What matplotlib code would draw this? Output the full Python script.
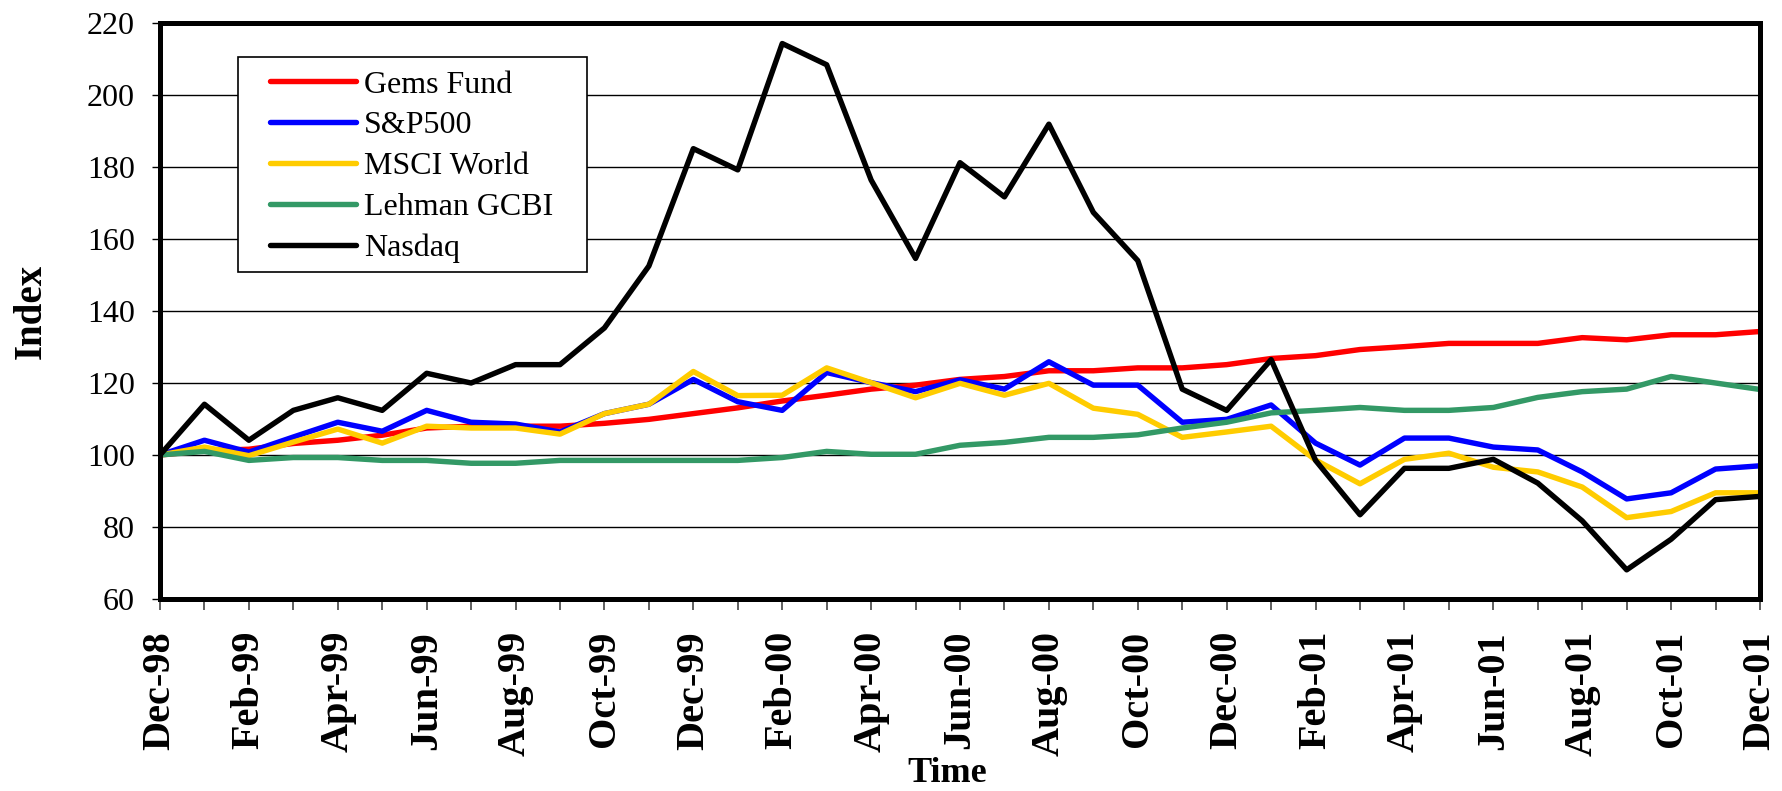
import matplotlib
matplotlib.use("Agg")
import matplotlib.pyplot as plt
from matplotlib.patches import Rectangle

plt.rcParams['font.family'] = ['Liberation Serif', 'DejaVu Serif']

months = ['Dec-98', 'Jan-99', 'Feb-99', 'Mar-99', 'Apr-99', 'May-99', 'Jun-99',
          'Jul-99', 'Aug-99', 'Sep-99', 'Oct-99', 'Nov-99', 'Dec-99',
          'Jan-00', 'Feb-00', 'Mar-00', 'Apr-00', 'May-00', 'Jun-00',
          'Jul-00', 'Aug-00', 'Sep-00', 'Oct-00', 'Nov-00', 'Dec-00',
          'Jan-01', 'Feb-01', 'Mar-01', 'Apr-01', 'May-01', 'Jun-01',
          'Jul-01', 'Aug-01', 'Sep-01', 'Oct-01', 'Nov-01', 'Dec-01']

gems = [100, 101.2, 101.6, 103.2, 104.1, 105.5, 107.5, 108.0, 108.0, 108.0,
        108.8, 109.9, 111.5, 113.1, 115.0, 116.6, 118.3, 119.4, 121.0, 121.8,
        123.4, 123.4, 124.2, 124.2, 125.1, 126.8, 127.6, 129.3, 130.1, 131.0,
        131.0, 131.0, 132.6, 132.0, 133.4, 133.4, 134.3]
sp500 = [100, 104.1, 100.8, 105.0, 109.1, 106.6, 112.4, 109.1, 108.6, 106.4,
         111.5, 114.1, 121.0, 114.8, 112.4, 122.9, 120.1, 117.6, 120.9, 118.3,
         125.9, 119.4, 119.4, 109.1, 109.9, 113.9, 103.3, 97.2, 104.7, 104.7,
         102.2, 101.4, 95.3, 87.8, 89.5, 96.1, 97.0]
msci = [100, 102.2, 99.8, 103.6, 107.2, 103.3, 108.0, 107.5, 107.5, 105.8,
        111.5, 114.1, 123.2, 116.5, 116.6, 124.2, 120.1, 115.9, 119.9, 116.6,
        119.9, 113.0, 111.3, 104.9, 106.4, 108.0, 98.6, 92.0, 98.8, 100.5,
        96.6, 95.3, 91.1, 82.6, 84.3, 89.5, 89.5]
lehman = [100, 101.0, 98.5, 99.3, 99.3, 98.5, 98.5, 97.7, 97.7, 98.5,
          98.5, 98.5, 98.5, 98.5, 99.3, 101.0, 100.2, 100.2, 102.7, 103.5,
          104.9, 104.9, 105.6, 107.5, 109.1, 111.7, 112.4, 113.2, 112.4, 112.4,
          113.2, 116.0, 117.6, 118.3, 121.8, 120.0, 118.2]
nasdaq = [100, 114.1, 104.1, 112.4, 115.9, 112.4, 122.7, 120.0, 125.1, 125.1,
          135.3, 152.5, 185.1, 179.2, 214.3, 208.4, 176.4, 154.6, 181.2, 171.7,
          191.9, 167.4, 154.0, 118.3, 112.4, 126.5, 98.5, 83.4, 96.3, 96.3,
          98.8, 92.2, 81.7, 68.1, 76.6, 87.6, 88.5]

series = [('Gems Fund', gems, '#FF0000'),
          ('S&P500', sp500, '#0000FF'),
          ('MSCI World', msci, '#FFCC00'),
          ('Lehman GCBI', lehman, '#339966'),
          ('Nasdaq', nasdaq, '#000000')]

fig = plt.figure(figsize=(17.83, 7.91), dpi=100)
ax = fig.add_axes([160/1783, 1-599/791, 1600/1783, 576/791])

x = list(range(len(months)))
for name, vals, col in series:
    ax.plot(x, vals, color=col, lw=3.9, label=name, solid_capstyle='round', zorder=5)

ax.set_xlim(0, len(months)-1)
ax.set_ylim(60, 220)
ax.set_yticks(range(60, 221, 20))
ax.yaxis.grid(True, color='black', lw=1.0)
ax.set_axisbelow(True)

ax.set_xticks(x)
ax.set_xticklabels([m if i % 2 == 0 else '' for i, m in enumerate(months)],
                   rotation=90, fontsize=29, fontweight='bold')
ax.tick_params(axis='x', length=8, width=1.2, color='#444444', pad=15)
ax.tick_params(axis='y', labelsize=23, length=6, width=1.0, pad=12)

for s in ax.spines.values():
    s.set_linewidth(3.6)
    s.set_zorder(6)

# legend box
ax.add_patch(Rectangle((0.049, 0.568), 0.218, 0.373, transform=ax.transAxes,
                       facecolor='white', edgecolor='black', lw=1.2, zorder=7))
leg = ax.legend(loc='upper left', bbox_to_anchor=(0.0685, 0.918), frameon=False,
                fontsize=23, handlelength=2.7, handletextpad=0.25,
                labelspacing=0.36, borderpad=0, borderaxespad=0)
leg.set_zorder(8)

fig.text(31/1783, 1-311/791, 'Index', rotation=90, ha='center', va='center',
         fontsize=28, fontweight='bold')
fig.text(947/1783, 1-773/791, 'Time', ha='center', va='center',
         fontsize=26, fontweight='bold')

fig.savefig('out.png', dpi=100)
